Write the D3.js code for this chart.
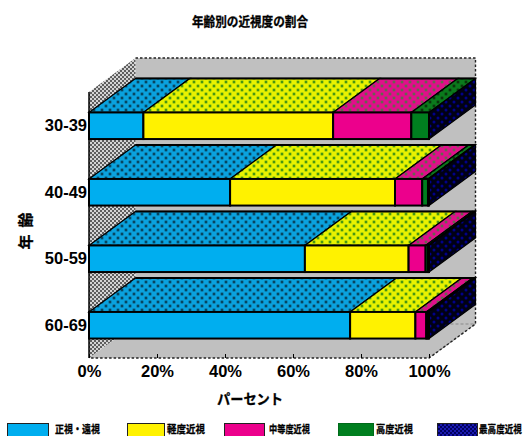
<!DOCTYPE html>
<html lang="ja">
<head>
<meta charset="utf-8">
<script src="https://cdn.jsdelivr.net/npm/d3@7/dist/d3.min.js"></script>
<style>
  html, body { margin: 0; padding: 0; background: #fff; overflow: hidden; }
  svg { display: block; }
  .latin { font-family: "Liberation Sans", Arial, sans-serif; font-weight: 700; font-size: 16.5px; fill: #000; }
  .cjk { font-family: "Noto Sans CJK JP", sans-serif; font-weight: 700; fill: #000; stroke: #000; stroke-width: 0.3px; }
</style>
</head>
<body>
<svg id="chart" width="523" height="436"></svg>
<script>
// Age bands, top to bottom
const ageGroups = ["30-39", "40-49", "50-59", "60-69"];
// Share of each vision class per age band (%)
const seriesNames = ["正視・遠視", "軽度近視", "中等度近視", "高度近視", "最高度近視"];
const normalVision = [16, 41.5, 63.5, 76.8];
const mildMyopia = [55.8, 48.5, 30.5, 19.2];
const moderateMyopia = [23, 8, 5, 3.2];
const highMyopia = [5.2, 1.7, 0.7, 0.4];
const severeMyopia = [0, 0.3, 0.3, 0.4];
const xTicks = [0, 20, 40, 60, 80, 100];

// Fills: flat front colour, dotted face colour, dot halo and dot core per class
const frontColors = ["#00aeef", "#fff200", "#ec008c", "#007f1f", "#000080"];
const faceColors = ["#0aa2de", "#e8f200", "#e0108a", "#0a7a1c", "#00006e"];
const haloColors = ["#0a78a6", "#a4cc08", "#b02c74", "#0a5a14", "#000040"];
const coreColors = ["#06384e", "#2f8a14", "#4f7a40", "#0a2a08", "#000000"];

const svg = d3.select("#chart");
const defs = svg.append("defs");

// Plot box: front plane plus the oblique offset to the back wall
const front = { left: 89, right: 429, top: 92, bottom: 358 };
const depth = { x: 46.5, y: -34 };

const x = d3.scaleLinear().domain([0, 100]).range([front.left, front.right]);
const y = d3.scaleBand().domain(ageGroups)
  .range([front.top + 0.5, front.bottom + 0.5])
  .paddingInner(0.6).paddingOuter(0.3);

const rows = ageGroups.map((age, i) => ({
  age,
  normal: normalVision[i], mild: mildMyopia[i], moderate: moderateMyopia[i],
  high: highMyopia[i], severe: severeMyopia[i]
}));
const keys = ["normal", "mild", "moderate", "high", "severe"];
const stacked = d3.stack().keys(keys)(rows);

// Halftone fills for the oblique faces
keys.forEach((k, i) => {
  const p = defs.append("pattern").attr("id", "dots-" + i)
    .attr("patternUnits", "userSpaceOnUse").attr("width", 8).attr("height", 8);
  p.append("rect").attr("width", 8).attr("height", 8).attr("fill", faceColors[i]);
  [[2, 2], [6, 6]].forEach(([cx, cy]) => {
    p.append("circle").attr("cx", cx).attr("cy", cy).attr("r", 1.9).attr("fill", haloColors[i]);
    p.append("circle").attr("cx", cx).attr("cy", cy).attr("r", 1.1).attr("fill", coreColors[i]);
  });
});
const sidePattern = defs.append("pattern").attr("id", "side")
  .attr("patternUnits", "userSpaceOnUse").attr("width", 8).attr("height", 8);
sidePattern.append("rect").attr("width", 8).attr("height", 8).attr("fill", "#000014");
[[2, 2], [6, 6]].forEach(([cx, cy]) => {
  sidePattern.append("circle").attr("cx", cx).attr("cy", cy).attr("r", 1.5).attr("fill", "#00008a");
});
const checker = defs.append("pattern").attr("id", "checker")
  .attr("patternUnits", "userSpaceOnUse").attr("width", 4).attr("height", 4);
checker.append("rect").attr("width", 4).attr("height", 4).attr("fill", "#5e5e5e");
checker.append("rect").attr("width", 2).attr("height", 2).attr("fill", "#d4d4d4");
checker.append("rect").attr("x", 2).attr("y", 2).attr("width", 2).attr("height", 2).attr("fill", "#d4d4d4");
const legendChecker = defs.append("pattern").attr("id", "legend-severe")
  .attr("patternUnits", "userSpaceOnUse").attr("width", 4).attr("height", 4);
legendChecker.append("rect").attr("width", 4).attr("height", 4).attr("fill", "#000060");
legendChecker.append("rect").attr("width", 2).attr("height", 2).attr("fill", "#1a1ab0");
legendChecker.append("rect").attr("x", 2).attr("y", 2).attr("width", 2).attr("height", 2).attr("fill", "#1a1ab0");

const poly = pts => pts.map(p => p.join(",")).join(" ");
const back = ([px, py]) => [px + depth.x, py + depth.y];

// Walls and floor
const xL = x(0), xR = x(100), yT = front.top, yB = front.bottom;
svg.append("polygon").attr("fill", "#c0c0c0")
  .attr("points", poly([back([xL, yT]), back([xR, yT]), back([xR, yB]), back([xL, yB])]));
svg.append("polygon").attr("fill", "#c0c0c0")
  .attr("points", poly([[xL, yB], [xR, yB], back([xR, yB]), back([xL, yB])]));
svg.append("polygon").attr("fill", "url(#checker)")
  .attr("points", poly([[xL, yT], back([xL, yT]), back([xL, yB]), [xL, yB]]));

// Floor seams and the dotted frame around the box
svg.append("polyline").attr("fill", "none").attr("stroke", "#8a8a8a").attr("stroke-width", 1)
  .attr("stroke-dasharray", "3 2")
  .attr("points", poly([back([xL, yB]), back([xR, yB]), [xR, yB]]));
svg.append("polyline").attr("fill", "none").attr("stroke", "#222").attr("stroke-width", 1.4)
  .attr("stroke-dasharray", "2.5 2")
  .attr("points", poly([back([xL, yT]), back([xR, yT]), back([xR, yB]), [xR, yB], [xL, yB]]));
svg.append("line").attr("stroke", "#000").attr("stroke-width", 1.5)
  .attr("x1", xL).attr("x2", xL).attr("y1", yT).attr("y2", yB);

// Stacked blocks, drawn back to front
rows.forEach((row, r) => {
  const g = svg.append("g");
  const top = y(row.age), bot = top + y.bandwidth();
  stacked.forEach((s, i) => {
    const x0 = x(s[r][0]), x1 = x(s[r][1]);
    if (x1 - x0 < 0.01) return;
    g.append("polygon").attr("fill", `url(#dots-${i})`)
      .attr("stroke", "#000").attr("stroke-width", 1.2)
      .attr("points", poly([[x0, top], [x1, top], back([x1, top]), back([x0, top])]));
  });
  // Back edge of the top face
  g.append("line").attr("stroke", "#000").attr("stroke-width", 2)
    .attr("x1", back([xL, top])[0]).attr("x2", back([xR, top])[0])
    .attr("y1", back([xL, top])[1]).attr("y2", back([xL, top])[1]);
  g.append("polygon").attr("fill", "url(#side)")
    .attr("stroke", "#000").attr("stroke-width", 1.2)
    .attr("points", poly([[xR, top], back([xR, top]), back([xR, bot]), [xR, bot]]));
  stacked.forEach((s, i) => {
    const x0 = x(s[r][0]), x1 = x(s[r][1]);
    if (x1 - x0 < 0.01) return;
    g.append("rect").attr("x", x0).attr("y", top)
      .attr("width", x1 - x0).attr("height", bot - top)
      .attr("fill", frontColors[i]).attr("stroke", "#000").attr("stroke-width", 2);
  });
});

// Axes
const xAxis = svg.append("g").attr("transform", `translate(0,${yB})`)
  .call(d3.axisBottom(x).tickValues(xTicks).tickFormat(d => d + "%").tickSize(-4).tickPadding(7));
xAxis.select(".domain").remove();
xAxis.selectAll("text").attr("class", "latin").attr("dy", "0.71em");
xAxis.selectAll("line").attr("stroke", "#000");

const yAxis = svg.append("g").attr("transform", `translate(${xL},0)`)
  .call(d3.axisLeft(y).tickSize(0).tickPadding(2));
yAxis.select(".domain").remove();
yAxis.selectAll("text").attr("class", "latin");

// Titles
svg.append("text").attr("class", "cjk").attr("x", 250).attr("y", 26)
  .attr("text-anchor", "middle").attr("font-size", 13)
  .attr("textLength", 116).attr("lengthAdjust", "spacingAndGlyphs")
  .text("年齢別の近視度の割合");
svg.append("text").attr("class", "cjk").attr("x", 250).attr("y", 404)
  .attr("text-anchor", "middle").attr("font-size", 14)
  .attr("textLength", 66).attr("lengthAdjust", "spacingAndGlyphs")
  .text("パーセント");
svg.append("g").attr("transform", "translate(26,231) rotate(-90)")
  .append("text").attr("class", "cjk").attr("text-anchor", "middle").attr("dy", "0.35em")
  .attr("font-size", 15).attr("textLength", 37)
  .text("年齢");

// Legend along the bottom edge; each label is squeezed horizontally to fit its slot
const legendSwatchX = [7, 127, 224, 338, 437];
const legendSwatchW = [41, 37, 40, 35, 40];
const legendTextX = [55, 167, 269, 376, 479];
const legendTextW = [45, 38, 41, 37, 43];
const legend = svg.append("g");
seriesNames.forEach((name, i) => {
  legend.append("rect").attr("x", legendSwatchX[i] + 0.5).attr("y", 423.5)
    .attr("width", legendSwatchW[i]).attr("height", 14)
    .attr("fill", i === 4 ? "url(#legend-severe)" : frontColors[i])
    .attr("stroke", i === 3 ? "#006a1a" : "#222").attr("stroke-width", 1);
  const label = legend.append("text").attr("class", "cjk")
    .attr("font-size", 10.5).text(name);
  const squeeze = legendTextW[i] / label.node().getComputedTextLength();
  label.attr("transform", `translate(${legendTextX[i]},432.5) scale(${squeeze},1)`);
});
</script>
</body>
</html>
